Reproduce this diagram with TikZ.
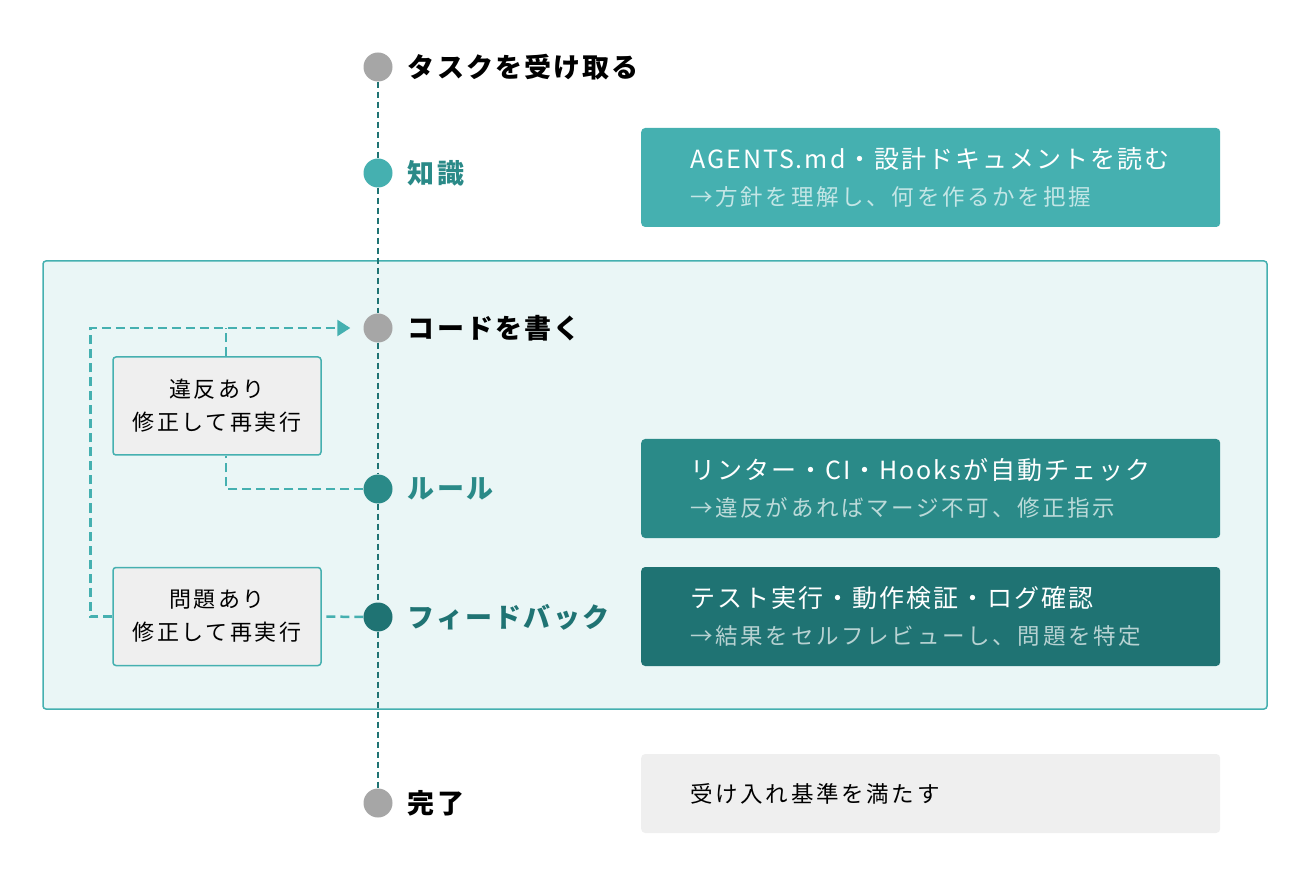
\documentclass[tikz,border=0pt]{standalone}
\usepackage{fontspec}
\setmainfont{Noto Sans CJK JP}
\usepackage{tikz}
\usetikzlibrary{positioning,arrows.meta}

\definecolor{TealLight}{HTML}{45B0B0}
\definecolor{TealMid}{HTML}{2A8A88}
\definecolor{TealDark}{HTML}{1F7373}
\definecolor{DotGray}{HTML}{A6A6A6}
\definecolor{PaleTeal}{HTML}{EAF6F6}
\definecolor{BoxGray}{HTML}{EFEFEF}

\begin{document}
\begin{tikzpicture}[x=1pt, y=-1pt]
   \tikzset{
     milestone/.style = { circle, fill = #1, minimum size = 29pt, inner sep = 0pt },
     stage/.style     = { font      = \bfseries\fontsize{27}{30}\selectfont\addfontfeatures{LetterSpace=8},
                          inner sep = 0pt },
     card/.style      = { fill            = #1,
                          rounded corners = 4pt,
                          text            = white,
                          align           = left,
                          text width      = 481pt,
                          inner xsep      = 49pt,
                          minimum height  = 99pt,
                          font            = \fontsize{25}{37}\selectfont\addfontfeatures{LetterSpace=8} },
     retrybox/.style  = { draw            = TealLight,
                          line width      = 1.5pt,
                          fill            = BoxGray,
                          rounded corners = 3pt,
                          align           = center,
                          minimum width   = 208pt,
                          minimum height  = 98pt,
                          font            = \fontsize{22}{33}\selectfont\addfontfeatures{LetterSpace=12} },
     timeline/.style  = { draw = TealDark, line width = 2pt, dash pattern = on 6pt off 4pt },
     retry/.style     = { draw = TealLight, line width = 2.5pt, dash pattern = on 9pt off 5pt },
  }
  \newcommand{\subline}[2]{{\fontsize{22.5}{37}\selectfont\addfontfeatures{LetterSpace=12}\color{white!68!#1}#2}}

  \useasboundingbox (0,0) rectangle (1310,874);

  \draw [draw = TealLight, line width = 1.5pt, fill = PaleTeal, rounded corners = 3pt]
    (43,261) rectangle (1267,709);

    \node [milestone = DotGray]   (Start) at (378,67)  {};
    \node [milestone = TealLight] (Know)  at (378,173) {};
    \node [milestone = DotGray]   (Code)  at (378,328) {};
    \node [milestone = TealMid]   (Rule)  at (378,489) {};
    \node [milestone = TealDark]  (Feed)  at (378,617) {};
    \node [milestone = DotGray]   (Done)  at (378,803) {};

    \foreach \a/\b in {Start/Know, Know/Code, Code/Rule, Rule/Feed, Feed/Done}
        \draw [timeline] (\a.south) -- (\b.north);

    \node [stage, right = 15pt of Start]               (StartLabel) {タスクを受け取る};
    \node [stage, right = 15pt of Know, text = TealMid] (KnowLabel)  {知識};
    \node [stage, right = 15pt of Code]                (CodeLabel)  {コードを書く};
    \node [stage, right = 15pt of Rule, text = TealMid] (RuleLabel)  {ルール};
    \node [stage, right = 15pt of Feed, text = TealDark] (FeedLabel) {フィードバック};
    \node [stage, right = 15pt of Done]                (DoneLabel)  {完了};

    \node [card = TealLight, anchor = west] (KnowCard) at (641,177.5)
        {
            AGENTS.md・設計ドキュメントを読む\\
            \subline{TealLight}{→方針を理解し、何を作るかを把握}
        };

    \node [card = TealMid, anchor = west] (RuleCard) at (641,488.5)
        {
            リンター・CI・Hooksが自動チェック\\
            \subline{TealMid}{→違反があればマージ不可、修正指示}
        };

    \node [card = TealDark, anchor = west] (FeedCard) at (641,616.5)
        {
            テスト実行・動作検証・ログ確認\\
            \subline{TealDark}{→結果をセルフレビューし、問題を特定}
        };

    \node [card = BoxGray, text = black, anchor = west, minimum height = 79pt,
           font = \fontsize{22.5}{30}\selectfont\addfontfeatures{LetterSpace=12}] (DoneCard) at (641,793.5)
        {受け入れ基準を満たす};

    \node [retrybox] (Viol) at (217,406)   {違反あり\\修正して再実行};
    \node [retrybox] (Prob) at (217,616.5) {問題あり\\修正して再実行};

    \draw [retry] (Rule.west) -| ([xshift=9pt]Viol.south);
    \draw [retry] ([xshift=9pt]Viol.north) -- ([xshift=9pt]Viol.north |- Code.west);
    \draw [retry] (Feed.west) -- (Prob.east);
    \draw [retry, -{Triangle[length=13pt, width=16pt]}]
        (Prob.west) -- ++(-22,0) |- ([xshift=-13pt]Code.west);

\end{tikzpicture}
\end{document}
